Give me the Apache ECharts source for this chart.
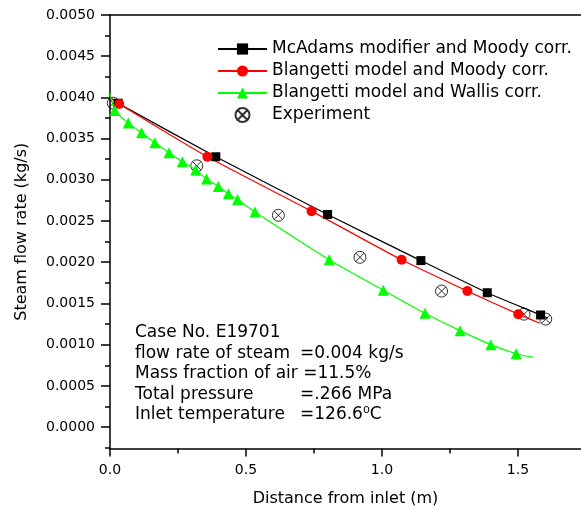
<!DOCTYPE html>
<html>
<head>
<meta charset="utf-8">
<script src="https://cdn.jsdelivr.net/npm/echarts@6/dist/echarts.min.js"></script>
<style>html,body{margin:0;padding:0;background:#fff;}#c{width:581px;height:512px;}</style>
</head>
<body>
<div id="c"></div>
<script>
// ---- data ----
const seriesNames = ['McAdams modifier and Moody corr.', 'Blangetti model and Moody corr.', 'Blangetti model and Wallis corr.', 'Experiment'];

// McAdams modifier and Moody corr. (markers) + curve ends
const mcAdamsStart = [0, 0.0040];
const mcAdamsPts = [[0.030, 0.00393], [0.389, 0.00328], [0.800, 0.00258], [1.143, 0.00202], [1.387, 0.00163], [1.583, 0.00136]];
const mcAdamsEnd = [1.610, 0.00132];

// Blangetti model and Moody corr.
const blMoodyStart = [0, 0.0040];
const blMoodyPts = [[0.034, 0.00392], [0.358, 0.00328], [0.741, 0.00262], [1.072, 0.00203], [1.314, 0.00165], [1.501, 0.00137]];
const blMoodyEnd = [1.580, 0.00126];

// Blangetti model and Wallis corr.
const blWallisStart = [0, 0.00405];
const blWallisPts = [[0.018, 0.00384], [0.067, 0.00369], [0.116, 0.00357], [0.165, 0.00345], [0.217, 0.00333], [0.266, 0.00322], [0.315, 0.00312], [0.355, 0.00301], [0.398, 0.00292], [0.435, 0.00283], [0.469, 0.00276], [0.533, 0.00261], [0.806, 0.00203], [1.005, 0.00166], [1.158, 0.00138], [1.287, 0.00117], [1.400, 0.00100], [1.493, 0.00089]];
const blWallisEnd = [1.556, 0.000845];

// Experiment
const experimentPts = [[0.012, 0.00393], [0.319, 0.00317], [0.619, 0.00257], [0.919, 0.00206], [1.219, 0.00165], [1.522, 0.00137], [1.602, 0.00131]];

// axis ticks
const yMajorTicks = [0, 0.0005, 0.0010, 0.0015, 0.0020, 0.0025, 0.0030, 0.0035, 0.0040, 0.0045, 0.0050];
const yMinorTicks = [-0.00025, 0.00025, 0.00075, 0.00125, 0.00175, 0.00225, 0.00275, 0.00325, 0.00375, 0.00425, 0.00475];
const xMajorTicks = [0, 0.5, 1.0, 1.5];
const xMinorTicks = [0.25, 0.75, 1.25];

// info box text
const infoLabels = ['Case No. E19701', 'flow rate of steam', 'Mass fraction of air =11.5%', 'Total pressure', 'Inlet temperature'];
const infoValues = ['', '=0.004 kg/s', '', '=.266 MPa', '=126.6\u2070C'];

// ---- chart ----
const FONT = 'DejaVu Sans';
function withEnds(start, pts, end) {
  const arr = [{ value: start, symbol: 'none' }];
  pts.forEach(p => arr.push({ value: p }));
  arr.push({ value: end, symbol: 'none' });
  return arr;
}
const xMin = 0, xMax = 1.7316, yMin = -0.00026, yMax = 0.005;
const expSymbol = 'path://M10,0A10,10,0,1,1,10,20A10,10,0,1,1,10,0ZM2.93,2.93L17.07,17.07M17.07,2.93L2.93,17.07';

const chart = echarts.init(document.getElementById('c'), null, { renderer: 'canvas' });
const infoGraphics = [];
const rowY = [331, 351.5, 372, 392.5, 413];
infoLabels.forEach((t, i) => {
  infoGraphics.push({ type: 'text', left: 135, top: rowY[i] - 6.5, style: { text: t, font: '17px "' + FONT + '"', fill: '#000' } });
  if (infoValues[i]) infoGraphics.push({ type: 'text', left: 300, top: rowY[i] - 6.5, style: { text: infoValues[i], font: '17px "' + FONT + '"', fill: '#000' } });
});

const lineCol = '#000';
chart.setOption({
  animation: false,
  backgroundColor: '#fff',
  grid: { left: 110, top: 15, width: 471, height: 433.5, show: false },
  legend: {
    orient: 'vertical', left: 217, top: 40.5, padding: 0, itemWidth: 49, itemHeight: 14, itemGap: 5,
    textStyle: { fontFamily: FONT, fontSize: 17, color: '#000' },
    data: seriesNames
  },
  xAxis: [{
    type: 'value', min: xMin, max: xMax,
    name: 'Distance from inlet (m)', nameLocation: 'middle', nameGap: 42,
    nameTextStyle: { fontFamily: FONT, fontSize: 16, color: '#000' },
    axisLine: { onZero: false, lineStyle: { color: lineCol, width: 1.5 } },
    axisTick: { customValues: xMajorTicks, length: 8, lineStyle: { color: lineCol, width: 1.5 } },
    axisLabel: { customValues: xMajorTicks, margin: 15, fontFamily: FONT, fontSize: 14, color: '#000', formatter: v => v.toFixed(1) },
    splitLine: { show: false }
  }, {
    type: 'value', min: xMin, max: xMax, position: 'bottom',
    axisLine: { show: false, onZero: false },
    axisTick: { customValues: xMinorTicks, length: 5, lineStyle: { color: lineCol, width: 1.5 } },
    axisLabel: { show: false }, splitLine: { show: false }
  }, {
    type: 'value', min: xMin, max: xMax, position: 'top',
    axisLine: { show: true, onZero: false, lineStyle: { color: lineCol, width: 1.5 } },
    axisTick: { show: false }, axisLabel: { show: false }, splitLine: { show: false }
  }],
  yAxis: [{
    type: 'value', min: yMin, max: yMax,
    name: 'Steam flow rate (kg/s)', nameLocation: 'middle', nameGap: 80,
    nameTextStyle: { fontFamily: FONT, fontSize: 16, color: '#000' },
    axisLine: { onZero: false, lineStyle: { color: lineCol, width: 1.5 } },
    axisTick: { customValues: yMajorTicks, length: 9, lineStyle: { color: lineCol, width: 1.5 } },
    axisLabel: { customValues: yMajorTicks, margin: 15, fontFamily: FONT, fontSize: 14, color: '#000', formatter: v => v.toFixed(4) },
    splitLine: { show: false }
  }, {
    type: 'value', min: yMin, max: yMax, position: 'left',
    axisLine: { show: false, onZero: false },
    axisTick: { customValues: yMinorTicks, length: 5, lineStyle: { color: lineCol, width: 1.5 } },
    axisLabel: { show: false }, splitLine: { show: false }
  }],
  series: [
    { name: seriesNames[0], type: 'line', data: withEnds(mcAdamsStart, mcAdamsPts, mcAdamsEnd), smooth: 0.2,
      symbol: 'rect', symbolSize: 9, itemStyle: { color: '#000' }, lineStyle: { color: '#000', width: 1.2 } },
    { name: seriesNames[1], type: 'line', data: withEnds(blMoodyStart, blMoodyPts, blMoodyEnd), smooth: 0.2,
      symbol: 'circle', symbolSize: 10, itemStyle: { color: '#ff0000' }, lineStyle: { color: '#ff0000', width: 1.2 } },
    { name: seriesNames[2], type: 'line', data: withEnds(blWallisStart, blWallisPts, blWallisEnd), smooth: 0.2,
      symbol: 'triangle', symbolSize: 11, itemStyle: { color: '#00ff00' }, lineStyle: { color: '#00ff00', width: 1.2 } },
    { name: seriesNames[3], type: 'scatter', data: experimentPts,
      symbol: expSymbol, symbolSize: 12, itemStyle: { color: 'transparent', borderColor: '#000', borderWidth: 1 } }
  ],
  graphic: infoGraphics
});
</script>
</body>
</html>
